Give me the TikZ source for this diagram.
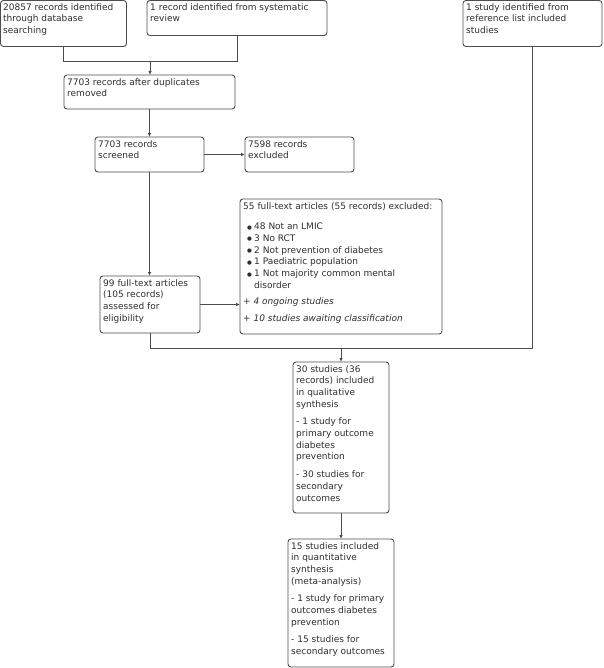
\documentclass[tikz,border=0pt]{standalone}
\usepackage{fontspec}
\setmainfont{DejaVu Sans}
\usetikzlibrary{arrows.meta}
\definecolor{linec}{HTML}{4D4D4D}
\definecolor{textc}{HTML}{2E2E2E}
\tikzset{
  box/.style={draw=linec, line width=0.9pt, rounded corners=3pt, anchor=north west, inner sep=0pt, outer sep=0pt},
  txt/.style={anchor=north west, inner sep=0pt, align=left, text=textc, font=\fontsize{9}{11.7}\selectfont},
  conn/.style={draw=linec, line width=0.9pt},
  arr/.style={conn, -{Latex[length=4pt,width=3.5pt]}}
}
\newcommand{\bul}{\makebox[7pt][l]{\raisebox{0.5pt}{\fontsize{5.5}{5.5}\selectfont●}}}
\begin{document}
\begin{tikzpicture}[x=1pt,y=-1pt]
\useasboundingbox (0,0) rectangle (603,668);
% boxes
\node[box, minimum width=126pt, minimum height=46pt] (A) at (0.5,0.5) {};
\node[box, minimum width=180pt, minimum height=35pt] (B) at (147,0.5) {};
\node[box, minimum width=139pt, minimum height=46pt] (C) at (463,0.5) {};
\node[box, minimum width=171pt, minimum height=34pt] (D) at (64,75) {};
\node[box, minimum width=109pt, minimum height=35pt] (E) at (95,137) {};
\node[box, minimum width=109pt, minimum height=35pt] (F) at (245,137) {};
\node[box, minimum width=202pt, minimum height=135pt] (G) at (240,199) {};
\node[box, minimum width=100pt, minimum height=57pt] (H) at (100,276) {};
\node[box, minimum width=96pt, minimum height=151pt] (I) at (293,362) {};
\node[box, minimum width=106pt, minimum height=128pt] (J) at (288,539) {};
% texts
\node[txt] (At) at (3,3) {20857 records identified\\through database\\searching};
\node[txt] (Bt) at (150,3) {1 record identified from systematic\\review};
\node[txt] (Ct) at (466,3) {1 study identified from\\reference list included\\studies};
\node[txt] (Dt) at (67,78) {7703 records after duplicates\\removed};
\node[txt] (Et) at (98,140) {7703 records\\screened};
\node[txt] (Ft) at (248,140) {7598 records\\excluded};
\node[txt] (Gt) at (243,202) {55 full-text articles (55 records) excluded:\\[9pt]
\hspace{4pt}\bul 48 Not an LMIC\\
\hspace{4pt}\bul 3 No RCT\\
\hspace{4pt}\bul 2 Not prevention of diabetes\\
\hspace{4pt}\bul 1 Paediatric population\\
\hspace{4pt}\bul 1 Not majority common mental\\
\hspace{11pt}disorder\\[5pt]
+ \textit{4 ongoing studies}\\[5pt]
+ \textit{10 studies awaiting classification}};
\node[txt] (Ht) at (103,279) {99 full-text articles\\(105 records)\\assessed for\\eligibility};
\node[txt] (It) at (296,365) {30 studies (36\\records) included\\in qualitative\\synthesis\\[6pt]
- 1 study for\\primary outcome\\diabetes\\prevention\\[6pt]
- 30 studies for\\secondary\\outcomes};
\node[txt] (Jt) at (291,542) {15 studies included\\in quantitative\\synthesis\\(meta-analysis)\\[6pt]
- 1 study for primary\\outcomes diabetes\\prevention\\[6pt]
- 15 studies for\\secondary outcomes};
% connectors
\coordinate (j1) at (150,61);
\coordinate (j2) at (341,348);
\draw[conn] (A.south) |- (j1);
\draw[conn] (B.south) |- (j1);
\draw[arr] (j1) -- (j1 |- D.north);
\draw[arr] (D.south) -- (D.south |- E.north);
\draw[arr] (E.east) -- (F.west);
\draw[arr] (E.south) -- (E.south |- H.north);
\draw[arr] (H.east) -- (H.east -| G.west);
\draw[conn] (H.south) |- (C.south |- j2) -- (C.south);
\draw[arr] (j2) -- (I.north);
\draw[arr] (I.south) -- (J.north);
\end{tikzpicture}
\end{document}
